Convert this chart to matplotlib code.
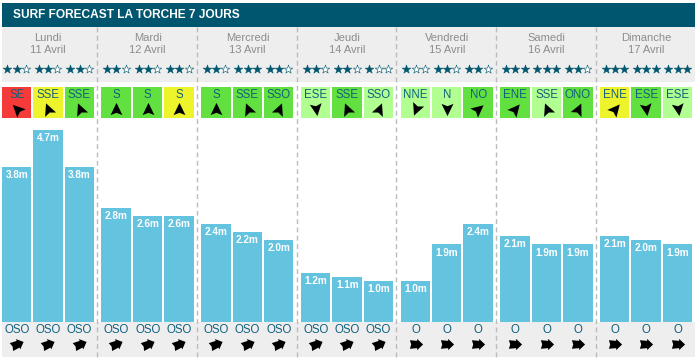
import matplotlib
matplotlib.use("Agg")
import matplotlib.pyplot as plt
from matplotlib.markers import MarkerStyle
from matplotlib.patches import Rectangle
from matplotlib.path import Path
from matplotlib.transforms import Affine2D

plt.rcParams['font.family'] = ['Liberation Sans', 'DejaVu Sans']

title = "SURF FORECAST LA TORCHE 7 JOURS"
days = ["Lundi", "Mardi", "Mercredi", "Jeudi", "Vendredi", "Samedi", "Dimanche"]
dates = ["11 Avril", "12 Avril", "13 Avril", "14 Avril", "15 Avril", "16 Avril", "17 Avril"]

# one value per slot, three slots a day
heights = [3.8, 4.7, 3.8, 2.8, 2.6, 2.6, 2.4, 2.2, 2.0, 1.2, 1.1, 1.0,
           1.0, 1.9, 2.4, 2.1, 1.9, 1.9, 2.1, 2.0, 1.9]
stars = [2, 2, 2, 2, 2, 2, 2, 3, 2, 2, 2, 1, 1, 2, 2, 3, 3, 2, 3, 3, 3]
wind_dirs = ["SE", "SSE", "SSE", "S", "S", "S", "S", "SSE", "SSO", "ESE", "SSE", "SSO",
             "NNE", "N", "NO", "ENE", "SSE", "ONO", "ENE", "ESE", "ESE"]
wind_rating = ["r", "y", "g", "g", "g", "y", "g", "g", "g", "l", "g", "l",
               "l", "l", "g", "g", "l", "g", "y", "g", "l"]
swell_dirs = ["OSO"] * 12 + ["O"] * 9

# screen heading of the arrow glyphs, clockwise from up
wind_heading = {"SE": -45, "SSE": -22, "S": 0, "SSO": 22, "ESE": 172, "NNE": 202,
                "N": 180, "NO": 50, "ENE": 40, "ONO": 25}
swell_heading = {"OSO": 67, "O": 90}

rating_colors = {"r": "#f53a3a", "y": "#eef42c", "g": "#62e03f", "l": "#b0ff90"}
dark = "#00566e"
panel = "#eeeeee"
bar_color = "#64c3df"
text_blue = "#10607e"

wind_arrow = Path([(0, 1), (0.9, -0.85), (0, -0.5), (-0.9, -0.85), (0, 1)], closed=True)
swell_arrow = Path([(0, 1), (0.85, 0.1), (0.55, 0.1), (0.65, -1), (0, -0.8), (-0.65, -1),
                    (-0.55, 0.1), (-0.85, 0.1), (0, 1)], closed=True)


def slot_left(i):
    d, s = divmod(i, 3)
    return 1.7 + d * 99.7 + s * 31.4


def rotated(path, heading):
    return MarkerStyle(path, transform=Affine2D().rotate_deg(-heading))


fig = plt.figure(figsize=(7, 3.63), dpi=100)
ax = fig.add_axes([0, 0, 1, 1])
ax.set_xlim(0, 700)
ax.set_ylim(363, 0)
ax.axis('off')

# panels and header
ax.add_patch(Rectangle((2, 27), 693, 55, color=panel, lw=0))
ax.add_patch(Rectangle((2, 322), 693, 35, color=panel, lw=0))
ax.add_patch(Rectangle((2, 3), 693, 24, color=dark, lw=0))
ax.text(13, 15.5, title, color="white", fontsize=8.6, fontweight='bold', va='center')

for d in range(7):
    cx = 48 + d * 99.7
    ax.text(cx, 38, days[d], color="#8c8c8c", fontsize=8, ha='center', va='center')
    ax.text(cx, 50, dates[d], color="#8c8c8c", fontsize=8, ha='center', va='center')
    if d > 0:
        ax.plot([cx - 50.5] * 2, [27, 357], color="#bbbbbb", lw=1, ls=(0, (3.5, 2.5)))

for i in range(21):
    left = slot_left(i)
    cx = left + 15
    # stars
    for k in range(3):
        filled = k < stars[i]
        ax.scatter(cx + (k - 1) * 9.3, 69, marker='*', s=42, linewidths=0.4, edgecolors=dark,
                   facecolors=dark if filled else "white", zorder=3)
    # wind box
    ax.add_patch(Rectangle((left, 87), 29.5, 31, color=rating_colors[wind_rating[i]], lw=0))
    ax.text(cx, 95, wind_dirs[i], color=text_blue, fontsize=8.3, ha='center', va='center')
    ax.plot([cx], [109], marker=rotated(wind_arrow, wind_heading[wind_dirs[i]]),
            ms=9.5, color="black", mew=0)
    # swell
    ax.text(cx, 330, swell_dirs[i], color=text_blue, fontsize=8.3, ha='center', va='center')
    ax.plot([cx], [344], marker=rotated(swell_arrow, swell_heading[swell_dirs[i]]),
            ms=9.5, color="black", mew=0)

# bars on their own metre scale, baseline at pixel row 322
px_per_m = 40.8
ax_bar = fig.add_axes([0, (363 - 322) / 363, 1, 322 / 363])
ax_bar.patch.set_alpha(0)
ax_bar.set_xlim(0, 700)
ax_bar.set_ylim(0, 322 / px_per_m)
ax_bar.axis('off')
lefts = [slot_left(i) for i in range(21)]
ax_bar.bar(lefts, heights, width=29.5, align='edge', color=bar_color)
for x, h in zip(lefts, heights):
    ax_bar.annotate(f"{h}m", (x + 15, h), xytext=(0, -5.8), textcoords='offset points',
                    color="white", fontsize=7.2, fontweight='bold', ha='center', va='center')

fig.savefig("out.png", dpi=100)
